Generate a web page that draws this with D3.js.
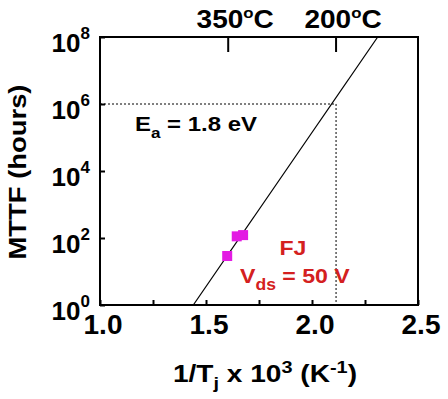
<!DOCTYPE html>
<html lang='en'>
<head>
<meta charset='utf-8'/>
<title>MTTF vs 1/Tj</title>
<script src='https://d3js.org/d3.v7.min.js'></script>
<style>
  body { margin: 0; background: #fff; }
  text { font-family: Arial, 'Liberation Sans', sans-serif; font-weight: bold; fill: #000; }
</style>
</head>
<body>
<script>
'use strict'
// data
const xTicks = [1.0, 1.25, 1.5, 1.75, 2.0, 2.25, 2.5]
const xLabels = [1.0, 1.5, 2.0, 2.5]
const yTicks = [1, 1e2, 1e4, 1e6, 1e8]
const yExponents = [0, 2, 4, 6, 8]
const topTemps = [350, 200]            // degrees C, top axis
const fitX = [1.44, 2.31]              // Ea = 1.8 eV fit line, 1/Tj x 1e3
const fitY = [1, 1e8]                  // MTTF hours
const pointX = [1.60, 1.645, 1.675]    // measured FJ devices
const pointY = [29, 112, 122]
const guideX = 1000 / (200 + 273.15)   // 200 C
const guideY = 1e6

const W = 448, H = 399
const margin = {top: 37, right: 30, bottom: 94, left: 100}
const width = W - margin.left - margin.right
const height = H - margin.top - margin.bottom
const red = '#d42020'

// the original lettering is wider than Arial at the same height
function stretch(sel, sx)
{
  sel.attr('transform', function() {
    const tx = +this.getAttribute('x'), ty = +this.getAttribute('y')
    return `translate(${tx},${ty}) scale(${sx},1) translate(${-tx},${-ty})`
  })
}

const svg = d3.select('body').append('svg')
  .attr('width', W)
  .attr('height', H)

svg.append('rect').attr('width', W).attr('height', H).attr('fill', '#fff')

const g = svg.append('g').attr('transform', `translate(${margin.left},${margin.top})`)

const x = d3.scaleLinear().domain([1.0, 2.5]).range([0, width])
const y = d3.scaleLog().domain([1, 1e8]).range([height, 0])

g.append('clipPath').attr('id', 'clip')
  .append('rect').attr('width', width).attr('height', height)

// dotted guides at 10^6 h and 200 C
g.append('line')
  .attr('x1', 0).attr('x2', x(guideX))
  .attr('y1', y(guideY)).attr('y2', y(guideY))
  .attr('stroke', '#000').attr('stroke-width', 1).attr('stroke-dasharray', '2,2')
g.append('line')
  .attr('x1', x(guideX)).attr('x2', x(guideX))
  .attr('y1', y(guideY)).attr('y2', height)
  .attr('stroke', '#000').attr('stroke-width', 1).attr('stroke-dasharray', '2,2')

// fit line
const line = d3.line().x(d => x(d[0])).y(d => y(d[1]))
g.append('path')
  .attr('clip-path', 'url(#clip)')
  .attr('d', line(d3.zip(fitX, fitY)))
  .attr('fill', 'none').attr('stroke', '#000').attr('stroke-width', 1.2)

// data points
const sq = 10
g.selectAll('rect.pt')
  .data(d3.zip(pointX, pointY))
  .join('rect')
  .attr('class', 'pt')
  .attr('x', d => x(d[0]) - sq / 2)
  .attr('y', d => y(d[1]) - sq / 2)
  .attr('width', sq).attr('height', sq)
  .attr('fill', '#e31be3')

// bottom axis, ticks inward
const xAxis = g.append('g').attr('transform', `translate(0,${height})`)
  .call(d3.axisBottom(x).tickValues(xTicks).tickSizeInner(-5).tickSizeOuter(0).tickFormat(''))
xAxis.select('.domain').remove()
xAxis.selectAll('line').attr('stroke-width', 2)
xAxis.selectAll('text.lbl')
  .data(xLabels)
  .join('text')
  .attr('class', 'lbl')
  .attr('x', d => x(d) + 3)
  .attr('y', 334 - margin.top - height)
  .attr('text-anchor', 'middle')
  .attr('font-size', 28)
  .text(d => d.toFixed(1))

// left axis, ticks inward
const yAxis = g.append('g')
  .call(d3.axisLeft(y).tickValues(yTicks).tickSizeInner(-5).tickSizeOuter(0).tickFormat(''))
yAxis.select('.domain').remove()
yAxis.selectAll('line').attr('stroke-width', 2)
const ylab = yAxis.selectAll('text.lbl')
  .data(d3.zip(yTicks, yExponents))
  .join('text')
  .attr('class', 'lbl')
  .attr('x', -10)
  .attr('y', d => y(d[0]) + 15)
  .attr('text-anchor', 'end')
  .attr('font-size', 26)
ylab.append('tspan').text('10')
ylab.append('tspan')
  .attr('dy', -13)
  .attr('font-size', 17)
  .text(d => d[1])

// top axis: temperature ticks
const topAxis = g.append('g')
topAxis.selectAll('line')
  .data(topTemps)
  .join('line')
  .attr('x1', d => x(1000 / (d + 273.15))).attr('x2', d => x(1000 / (d + 273.15)))
  .attr('y1', 0).attr('y2', 15)
  .attr('stroke', '#000').attr('stroke-width', 2)
const tl = topAxis.selectAll('text')
  .data(topTemps)
  .join('text')
  .attr('x', d => x(1000 / (d + 273.15)) + 7)
  .attr('y', 28 - margin.top)
  .attr('text-anchor', 'middle')
  .attr('font-size', 25)
tl.append('tspan').text(d => d)
tl.append('tspan').attr('dy', -10).attr('font-size', 15).text('o')
tl.append('tspan').attr('dy', 10).text('C')
stretch(tl, 1.12)

// frame
g.append('rect')
  .attr('width', width).attr('height', height)
  .attr('fill', 'none').attr('stroke', '#000').attr('stroke-width', 2)

// annotations
const ea = g.append('text')
  .attr('x', 135 - margin.left)
  .attr('y', 131 - margin.top)
  .attr('font-size', 21)
ea.append('tspan').text('E')
ea.append('tspan').attr('dy', 7).attr('font-size', 15).text('a')
ea.append('tspan').attr('dy', -7).text(' = 1.8 eV')
stretch(ea, 1.14)

const fj = g.append('text')
  .attr('x', 293 - margin.left)
  .attr('y', 255 - margin.top)
  .attr('text-anchor', 'middle')
  .attr('font-size', 21)
  .style('fill', red)
  .text('FJ')
stretch(fj, 1.1)

const vds = g.append('text')
  .attr('x', 240 - margin.left)
  .attr('y', 283 - margin.top)
  .attr('font-size', 21)
  .style('fill', red)
vds.append('tspan').text('V')
vds.append('tspan').attr('dy', 7).attr('font-size', 16).text('ds')
vds.append('tspan').attr('dy', -7).text(' = 50 V')
stretch(vds, 1.1)

// axis titles
const xt = svg.append('text')
  .attr('x', 265)
  .attr('y', 382)
  .attr('text-anchor', 'middle')
  .attr('font-size', 24)
xt.append('tspan').text('1/T')
xt.append('tspan').attr('dy', 7).attr('font-size', 17).text('j')
xt.append('tspan').attr('dy', -7).text(' x 10')
xt.append('tspan').attr('dy', -9).attr('font-size', 17).text('3')
xt.append('tspan').attr('dy', 9).text(' (K')
xt.append('tspan').attr('dy', -9).attr('font-size', 17).text('-1')
xt.append('tspan').attr('dy', 9).text(')')
stretch(xt, 1.17)

svg.append('text')
  .attr('transform', 'translate(26,172) rotate(-90)')
  .attr('text-anchor', 'middle')
  .attr('font-size', 24)
  .attr('textLength', 175)
  .attr('lengthAdjust', 'spacingAndGlyphs')
  .text('MTTF (hours)')
</script>
</body>
</html>
